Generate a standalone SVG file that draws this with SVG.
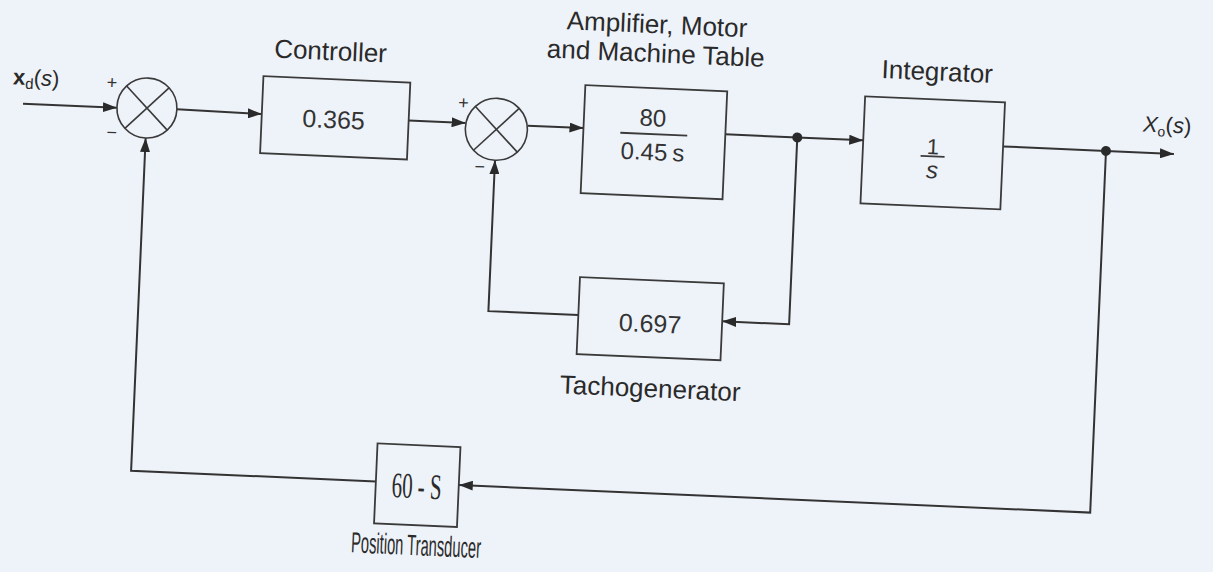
<svg xmlns="http://www.w3.org/2000/svg" width="1213" height="572" viewBox="0 0 1213 572">
<defs>
<style>
.bg{fill:#eef2f9}
.box{fill:none;stroke:#3a3a3a;stroke-width:1.8}
.sum{fill:none;stroke:#3a3a3a;stroke-width:1.6}
.wire{fill:none;stroke:#333;stroke-width:2}
.lbl{font-family:"Liberation Sans",Arial,sans-serif;font-size:26px;fill:#2a2a2a}
.val{font-family:"Liberation Sans",Arial,sans-serif;font-size:25px;fill:#333}
.sign{font-family:"Liberation Sans",Arial,sans-serif;font-size:18px;fill:#333}
.dot{fill:#2a2a2a}
</style>
<marker id="arr" viewBox="0 0 14 10" refX="14" refY="5" markerWidth="14" markerHeight="10" markerUnits="userSpaceOnUse" orient="auto">
<path d="M0,0 L14,5 L0,10 Z" fill="#2a2a2a"/>
</marker>
</defs>
<rect class="bg" x="0" y="0" width="1213" height="572"/>
<g transform="rotate(2.5 600 300)">
<g id="connectors">
<line class="wire" x1="15" y1="129" x2="109" y2="129" marker-end="url(#arr)"/>
<line class="wire" x1="169" y1="128" x2="254" y2="129" marker-end="url(#arr)"/>
<line class="wire" x1="401" y1="129" x2="458" y2="129" marker-end="url(#arr)"/>
<line class="wire" x1="520" y1="129" x2="576" y2="129" marker-end="url(#arr)"/>
<polyline class="wire" points="718,129 790,129"/>
<line class="wire" x1="790" y1="129" x2="856" y2="129" marker-end="url(#arr)"/>
<polyline class="wire" points="996,129 1099,129"/>
<line class="wire" x1="1099" y1="129" x2="1167" y2="129" marker-end="url(#arr)"/>
<polyline class="wire" points="790,129 790,316 723,316" marker-end="url(#arr)"/>
<polyline class="wire" points="579,316 489,316 489,165" marker-end="url(#arr)"/>
<polyline class="wire" points="1099,129 1099,491 467,491" marker-end="url(#arr)"/>
<polyline class="wire" points="384,491 139,491 139,158" marker-end="url(#arr)"/>
<circle class="dot" cx="790" cy="129" r="5"/>
<circle class="dot" cx="1099" cy="129" r="5"/>
</g>
<g id="input-label">
<text x="4" y="110" class="lbl" style="font-size:22px"><tspan font-weight="bold">x</tspan><tspan font-size="15" dy="4">d</tspan><tspan dy="-4">(</tspan><tspan font-style="italic">s</tspan><tspan>)</tspan></text>
</g>
<g id="summer1">
<circle class="sum" cx="139" cy="128" r="30"/>
<line class="sum" x1="117.8" y1="106.8" x2="160.2" y2="149.2"/>
<line class="sum" x1="160.2" y1="106.8" x2="117.8" y2="149.2"/>
<text class="sign" x="103" y="110" text-anchor="middle">+</text>
<text class="sign" x="105" y="160" text-anchor="middle">−</text>
</g>
<g id="controller">
<text class="lbl" x="320" y="72" text-anchor="middle">Controller</text>
<rect class="box" x="254" y="91" width="147" height="77"/>
<text class="val" x="326" y="140" text-anchor="middle">0.365</text>
</g>
<g id="summer2">
<circle class="sum" cx="489" cy="134" r="31"/>
<line class="sum" x1="467.1" y1="112.1" x2="510.9" y2="155.9"/>
<line class="sum" x1="510.9" y1="112.1" x2="467.1" y2="155.9"/>
<text class="sign" x="455" y="115" text-anchor="middle">+</text>
<text class="sign" x="474" y="178" text-anchor="middle">−</text>
</g>
<g id="amplifier">
<text class="lbl" x="645" y="31" text-anchor="middle">Amplifier, Motor</text>
<text class="lbl" x="645" y="60" text-anchor="middle">and Machine Table</text>
<rect class="box" x="576" y="86" width="142" height="108"/>
<text class="val" x="645" y="124" text-anchor="middle" style="font-size:24px">80</text>
<line class="box" x1="613" y1="132" x2="680" y2="132"/>
<text class="val" x="646" y="158" text-anchor="middle" style="font-size:24px">0.45<tspan dx="5">s</tspan></text>
</g>
<g id="integrator">
<text class="lbl" x="927" y="66" text-anchor="middle">Integrator</text>
<rect class="box" x="856" y="85" width="140" height="107"/>
<text class="val" x="926" y="140" text-anchor="middle" style="font-size:22px">1</text>
<line class="box" x1="914" y1="142" x2="938" y2="142"/>
<text class="val" x="926" y="164" text-anchor="middle" style="font-size:24px;font-style:italic">s</text>
</g>
<g id="output-label">
<text x="1135" y="108" class="lbl" style="font-size:22px"><tspan font-style="italic">X</tspan><tspan font-size="14" dy="4">o</tspan><tspan dy="-4">(</tspan><tspan font-style="italic">s</tspan><tspan>)</tspan></text>
</g>
<g id="tachogenerator">
<rect class="box" x="579" y="278" width="144" height="77"/>
<text class="val" x="651" y="330" text-anchor="middle">0.697</text>
<text class="lbl" x="654" y="395" text-anchor="middle">Tachogenerator</text>
</g>
<g id="position-transducer">
<rect class="box" x="384" y="453" width="83" height="80"/>
<text x="425" y="506" text-anchor="middle" textLength="50" lengthAdjust="spacingAndGlyphs" style="font-family:'Liberation Serif','Times New Roman',serif;font-size:36px;fill:#2a2a2a">60 - S</text>
<text class="lbl" x="427" y="563" text-anchor="middle" textLength="130" lengthAdjust="spacingAndGlyphs" style="font-size:29px">Position Transducer</text>
</g>
</g>
</svg>
